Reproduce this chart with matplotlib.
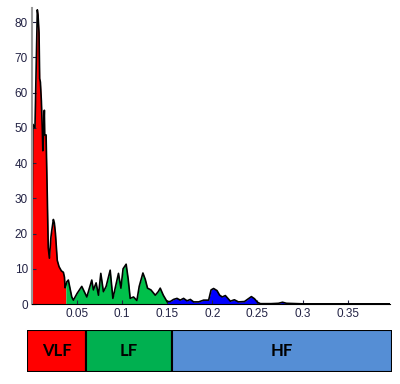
import matplotlib
matplotlib.use("Agg")
import matplotlib.pyplot as plt
import numpy as np

plt.rcParams['font.family'] = ['Liberation Sans', 'DejaVu Sans']

# spectrum (frequency in Hz, power)
vlf_f = [0.0, 0.0004, 0.001, 0.0033, 0.0059, 0.0067, 0.0078, 0.0085, 0.0093,
         0.0104, 0.0115, 0.012, 0.0133, 0.0137, 0.0141, 0.0156, 0.017, 0.018,
         0.0193, 0.021, 0.022, 0.0237, 0.0248, 0.026, 0.028, 0.030, 0.0326,
         0.0348, 0.036, 0.0367, 0.0375]
vlf_p = [17, 32, 51, 50, 83.5, 82, 77, 64, 63,
         57.6, 49, 43.5, 52, 55, 48, 48, 30, 16,
         13, 19, 21, 24, 23, 20, 12.4, 10.6, 9.4,
         9, 7.6, 4.6, 5.5]

lf_f = [0.0375, 0.0386, 0.0403, 0.0441, 0.0459, 0.05, 0.0552, 0.0608, 0.0663,
        0.0681, 0.0711, 0.0737, 0.0763, 0.0792, 0.0822, 0.0867, 0.0897, 0.0959,
        0.0986, 0.101, 0.1044, 0.1067, 0.1089, 0.1126, 0.1163, 0.1189, 0.123,
        0.1256, 0.1281, 0.1319, 0.1367, 0.14, 0.1422, 0.1456, 0.1497, 0.15]
lf_p = [5.5, 6.3, 6.8, 2, 1.1, 3, 5, 2, 6.8,
        4, 6, 2.5, 8.7, 3.5, 5, 9.6, 1.6, 8.7,
        4.5, 10, 11.3, 7, 1.6, 2, 1, 5, 8.8,
        7, 4.5, 4, 2.5, 3.5, 4.5, 2.5, 0.7, 0.7]

hf_f = [0.15, 0.1533, 0.157, 0.1608, 0.1644, 0.1681, 0.1719, 0.1756, 0.1792,
        0.1848, 0.1903, 0.1959, 0.1986, 0.2014, 0.2052, 0.2081, 0.211, 0.2144,
        0.22, 0.2244, 0.2289, 0.2356, 0.24, 0.2433, 0.2467, 0.25, 0.2533,
        0.265, 0.2733, 0.2778, 0.2822, 0.30, 0.35, 0.397]
hf_p = [0.7, 0.7, 1.3, 1.6, 1.1, 1.6, 0.9, 1.3, 0.6,
        0.6, 1.1, 1.1, 4, 4.4, 3.8, 2.5, 2.0, 2.4,
        0.8, 1.2, 0.6, 0.7, 1.5, 2.1, 1.5, 0.5, 0.1,
        0.1, 0.2, 0.5, 0.2, 0.05, 0.05, 0.05]

band_names = ["VLF", "LF", "HF"]
band_colors = ["#ff0000", "#00b050", "#558ed5"]

fig = plt.figure(figsize=(4.0, 3.84), dpi=100)
ax = fig.add_axes([0.08, 0.2083, 0.895, 0.7707])

for f, p, c in [(vlf_f, vlf_p, "#ff0000"), (lf_f, lf_p, "#00c04a"), (hf_f, hf_p, "#0000ff")]:
    ax.fill_between(f, 0, p, color=c, linewidth=0)
    ax.plot(f, p, color="black", linewidth=1.2)

ax.set_xlim(0, 0.397)
ax.set_ylim(0, 84)
ax.set_yticks(np.arange(0, 81, 10))
ax.set_xticks([0.05, 0.1, 0.15, 0.2, 0.25, 0.3, 0.35])
ax.set_xticklabels(["0.05", "0.1", "0.15", "0.2", "0.25", "0.3", "0.35"])
ax.tick_params(direction="in", length=3, labelsize=8.5, colors="#222244", pad=3)
ax.spines["top"].set_visible(False)
ax.spines["right"].set_visible(False)
ax.spines["left"].set_color("#999999")
ax.spines["left"].set_linewidth(1.5)
ax.spines["bottom"].set_color("black")

# band bar under the chart
bx = fig.add_axes([0.0675, 0.03125, 0.9125, 0.109])
widths = [59, 86, 220]
left = 0
for name, w, c in zip(band_names, widths, band_colors):
    bx.barh(0, w, left=left, height=1, color=c, edgecolor="black", linewidth=1.5)
    bx.text(left + w / 2, 0, name, ha="center", va="center",
            fontsize=12, fontweight="bold", family=["Lato", "DejaVu Sans"])
    left += w
bx.set_xlim(0, sum(widths))
bx.set_ylim(-0.5, 0.5)
bx.axis("off")

fig.savefig("out.png", dpi=100)
